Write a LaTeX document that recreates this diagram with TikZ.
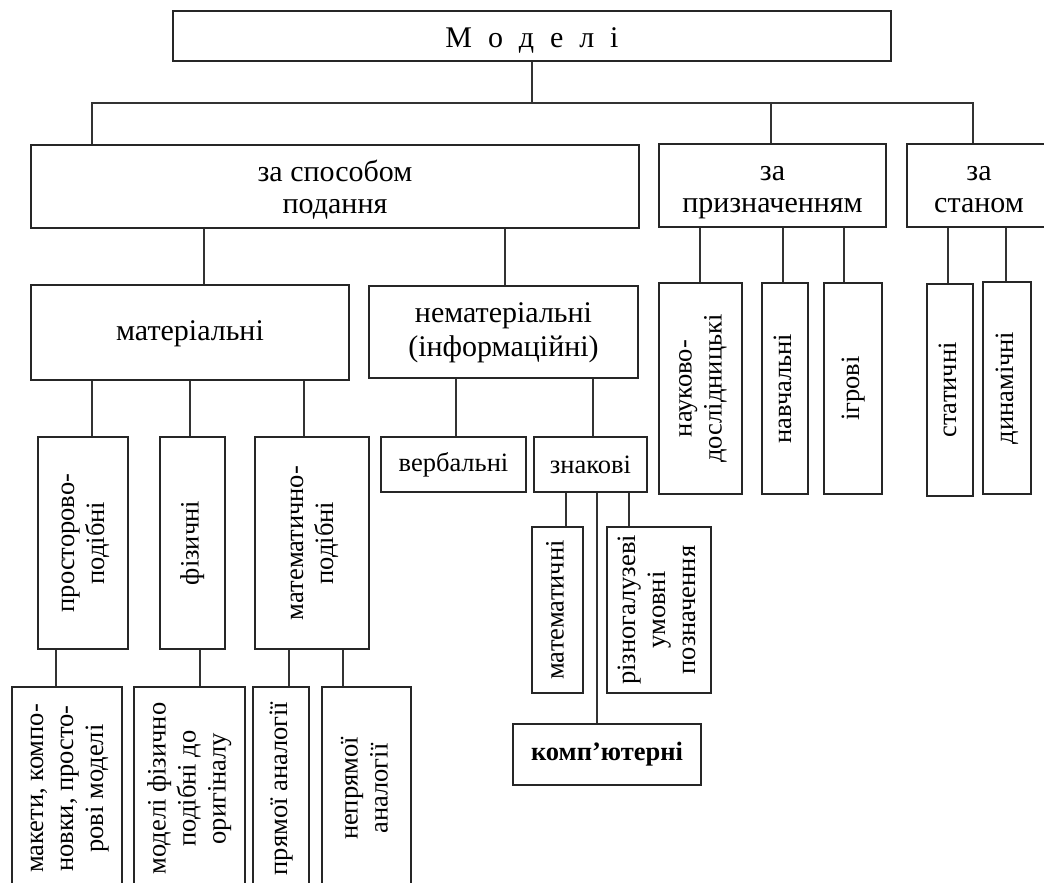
\documentclass[tikz,border=0pt]{standalone}
\usepackage{fontspec}
\usepackage{graphicx}
\setmainfont{Liberation Serif}
\newcommand\bigf{\fontsize{30}{32}\selectfont}
\newcommand\smf{\fontsize{26.5}{30}\selectfont}
\newcommand\rot[1]{\rotatebox{90}{\begin{tabular}{@{}c@{}}#1\end{tabular}}}
% struts: top strut of given height, bottom strut of given depth
\newcommand\sT[1]{\rule{0pt}{#1pt}}
\newcommand\sB[1]{\rule[-#1pt]{0pt}{#1pt}}
\tikzset{
  box/.style={draw=black!85, line width=1.4pt, fill=white, inner sep=0pt, align=center, text=black},
  link/.style={draw=black!80, line width=1.3pt},
}
\newcommand\bx[7][]{\node[box,#1,minimum width={(#4-#2)*1pt},minimum height={(#5-#3)*1pt}] (#6) at ({(#2+#4)/2},{(#3+#5)/2}) {#7};}
\newcommand\vl[3]{\draw[link] (#1.south -| #3,0) -- (#2.north -| #3,0);}
\begin{document}
\begin{tikzpicture}[x=1pt,y=-1pt]
\useasboundingbox (0,0) rectangle (1044,883);
\fill[white] (0,0) rectangle (1044,883);
\clip (0,0) rectangle (1044,883);
% bus
\coordinate (busL) at (92,103);
\coordinate (busM) at (771,103);
\coordinate (busR) at (973,103);
% level 0
\bx[font=\bigf]{173}{11}{891}{61}{top}{\sT{32}\sB{8}{\spaceskip=0.53em\relax М о д е л і}}
% level 1
\bx[font=\bigf]{31}{145}{639}{228}{zs}{\sT{31}за способом\\подання\sB{10}}
\bx[font=\bigf]{659}{144}{886}{227}{zp}{\sT{31}за\\призначенням\sB{10}}
\bx[font=\bigf]{907}{144}{1051}{227}{zst}{\sT{31}за\\станом\sB{10}}
% level 2
\bx[font=\bigf]{31}{285}{349}{380}{mat}{\sT{25}\sB{10}матеріальні}
\bx[font=\bigf]{369}{286}{638}{378}{nemat}{\sT{26}нематеріальні\\[2pt](інформаційні)\sB{12}}
\bx[font=\smf]{659}{283}{742}{494}{nauk}{\rot{науково-\\дослідницькі}}
\bx[font=\smf]{762}{283}{808}{494}{navch}{\rot{навчальні}}
\bx[font=\smf]{824}{283}{882}{494}{igr}{\rot{ігрові}}
\bx[font=\smf]{927}{284}{973}{496}{stat}{\rot{статичні}}
\bx[font=\smf]{983}{282}{1031}{494}{dyn}{\rot{динамічні}}
% level 3
\bx[font=\smf]{38}{437}{128}{649}{pp}{\rot{просторово-\\подібні}}
\bx[font=\smf]{160}{437}{225}{649}{fiz}{\rot{фізичні}}
\bx[font=\smf]{255}{437}{369}{649}{matp}{\rot{математично-\\подібні}}
\bx[font=\smf]{381}{437}{526}{492}{verb}{вербальні}
\bx[font=\smf]{534}{437}{647}{492}{znak}{знакові}
% level 4
\bx[font=\smf]{532}{527}{583}{693}{matem}{\rot{математичні}}
\bx[font=\smf]{607}{527}{711}{693}{rizn}{\rot{різногалузеві\\умовні\\позначення}}
\bx[font=\smf\bfseries]{513}{724}{701}{785}{komp}{комп’ютерні}
\bx[font=\smf]{12}{687}{122}{890}{maket}{\rot{макети, компо-\\новки, просто-\\рові моделі}}
\bx[font=\smf]{134}{687}{245}{890}{modf}{\rot{моделі фізично\\подібні до\\оригіналу}}
\bx[font=\smf]{253}{687}{309}{890}{pryam}{\rot{прямої аналогії}}
\bx[font=\smf]{322}{687}{411}{890}{nepr}{\rot{непрямої\\аналогії}}
% connectors
\draw[link] (top.south) -- (top.south |- busL);
\draw[link] (zs.north -| busL) -- (busL) -- (busR) -- (zst.north -| busR);
\draw[link] (busM) -- (zp.north -| busM);
\vl{zs}{mat}{204}
\vl{zs}{nemat}{505}
\vl{zp}{nauk}{700}
\vl{zp}{navch}{783}
\vl{zp}{igr}{844}
\vl{zst}{stat}{948}
\vl{zst}{dyn}{1006}
\vl{mat}{pp}{92}
\vl{mat}{fiz}{190}
\vl{mat}{matp}{304}
\vl{nemat}{verb}{456}
\vl{nemat}{znak}{593}
\vl{znak}{matem}{566}
\vl{znak}{komp}{597}
\vl{znak}{rizn}{629}
\vl{pp}{maket}{56}
\vl{fiz}{modf}{200}
\vl{matp}{pryam}{289}
\vl{matp}{nepr}{343}
\end{tikzpicture}
\end{document}
